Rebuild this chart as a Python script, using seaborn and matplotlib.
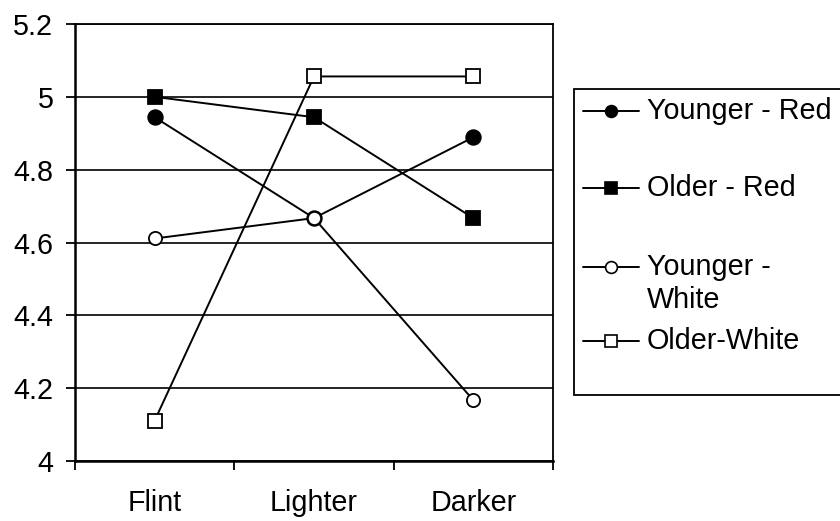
import matplotlib
matplotlib.use("Agg")
import matplotlib.pyplot as plt
from matplotlib.lines import Line2D
from matplotlib.patches import Rectangle
import numpy as np
import pandas as pd
import seaborn as sns

# Mean ratings per glass type
categories = ["Flint", "Lighter", "Darker"]
younger_red = [4.944, 4.667, 4.889]
older_red = [5.0, 4.944, 4.667]
younger_white = [4.611, 4.667, 4.167]
older_white = [4.111, 5.056, 5.056]

series_names = ["Younger - Red", "Older - Red", "Younger - White", "Older-White"]
legend_labels = ["Younger - Red", "Older - Red", ["Younger -", "White"], "Older-White"]
series_values = [younger_red, older_red, younger_white, older_white]
series_markers = ["o", "s", "o", "s"]
series_faces = ["black", "black", "white", "white"]
series_msize = [10.5, 10.5, 9.5, 9.5]

y_ticks = [4, 4.2, 4.4, 4.6, 4.8, 5, 5.2]
y_tick_labels = ["4", "4.2", "4.4", "4.6", "4.8", "5", "5.2"]

FS = 20.7

sns.set_theme(style="white")
plt.rcParams["font.family"] = ["Liberation Sans", "DejaVu Sans"]

W, H = 840, 521
fig = plt.figure(figsize=(W / 100, H / 100), dpi=100)
ax = fig.add_axes([75 / W, 1 - 461 / H, (553 - 75) / W, (461 - 24) / H])

df = pd.DataFrame({"category": categories})
for name, vals in zip(series_names, series_values):
    df[name] = vals

for name, mk, fc, ms in zip(series_names, series_markers, series_faces, series_msize):
    sns.lineplot(data=df, x="category", y=name, ax=ax, sort=False,
                 color="black", linewidth=1.4, marker=mk, markersize=ms,
                 markerfacecolor=fc, markeredgecolor="black",
                 markeredgewidth=1.3, legend=False)

ax.set_xlim(-0.5, 2.5)
ax.set_ylim(4, 5.2)
ax.set_xlabel("")
ax.set_ylabel("")

# horizontal gridlines at each major y tick
ax.set_yticks(y_ticks)
ax.set_yticklabels(y_tick_labels)
for yv in y_ticks:
    ax.axhline(yv, color="black", linewidth=1.2, zorder=0.5)

# category boundaries carry tick marks, category centres carry labels
ax.set_xticks([-0.5, 0.5, 1.5, 2.5])
ax.set_xticklabels([])
ax.set_xticks([0, 1, 2], minor=True)
ax.set_xticklabels(categories, minor=True)
ax.tick_params(axis="x", which="major", direction="out", length=6.5,
               width=1.3, color="black", bottom=True)
ax.tick_params(axis="x", which="minor", length=0, pad=20, labelsize=FS,
               labelcolor="black")
ax.tick_params(axis="y", which="major", direction="out", length=6.5,
               width=1.3, color="black", left=True, pad=9, labelsize=FS,
               labelcolor="black")

for side, sp in ax.spines.items():
    sp.set_visible(True)
    sp.set_color("black")
    sp.set_linewidth(1.3)
ax.spines["left"].set_linewidth(1.8)
ax.spines["bottom"].set_linewidth(1.8)


def fig_xy(x, y):
    return x / W, 1 - y / H


# legend panel
x0, y0 = fig_xy(574, 395)
x1, y1 = fig_xy(860, 89)
fig.add_artist(Rectangle((x0, y0), x1 - x0, y1 - y0, transform=fig.transFigure,
                         facecolor="white", edgecolor="black", linewidth=1.3,
                         clip_on=False))

entry_rows = [111, 188, 267, 341]
for label, mk, fc, row in zip(legend_labels, series_markers, series_faces, entry_rows):
    lx0, ly = fig_xy(583, row)
    lx1, _ = fig_xy(639, row)
    mx, _ = fig_xy(611, row)
    fig.add_artist(Line2D([lx0, lx1], [ly, ly], transform=fig.transFigure,
                          color="black", linewidth=1.4))
    fig.add_artist(Line2D([mx], [ly], transform=fig.transFigure, marker=mk,
                          markersize=8.5, markerfacecolor=fc,
                          markeredgecolor="black", markeredgewidth=1.2,
                          linestyle="none"))
    lines = label if isinstance(label, list) else [label]
    for i, line in enumerate(lines):
        tx, ty = fig_xy(647, row + 33 * i)
        fig.text(tx, ty, line, fontsize=FS, color="black", ha="left",
                 va="center")

fig.savefig("out.png", dpi=100, facecolor="white")
